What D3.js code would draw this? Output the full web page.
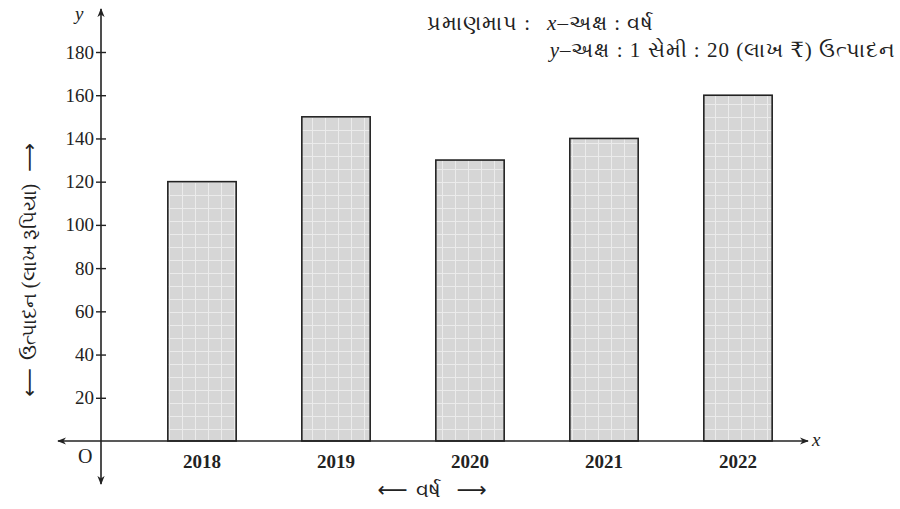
<!DOCTYPE html>
<html>
<head>
<meta charset="utf-8">
<script src="https://cdn.jsdelivr.net/npm/d3@7"></script>
<style>
  body { margin: 0; background: #fff; }
  text { font-family: "Liberation Serif", "DejaVu Serif", serif; fill: #222; }
  .arr { font-family: "DejaVu Sans", sans-serif; }
</style>
</head>
<body>
<svg id="chart" width="900" height="509"></svg>
<script>
const years = ["2018", "2019", "2020", "2021", "2022"];
const production = [120, 150, 130, 140, 160];
const yTicks = [20, 40, 60, 80, 100, 120, 140, 160, 180];

const svg = d3.select("#chart");
const ink = "#222";

// scales
const x = d3.scaleBand()
  .domain(years)
  .range([135, 805])
  .paddingInner(0.49)
  .paddingOuter(0.245);

const y = d3.scaleLinear()
  .domain([0, 180])
  .range([441, 52]);

// arrow heads
const defs = svg.append("defs");
defs.append("marker")
  .attr("id", "arrow")
  .attr("viewBox", "0 0 10 10")
  .attr("refX", 9).attr("refY", 5)
  .attr("markerWidth", 9).attr("markerHeight", 9)
  .attr("markerUnits", "userSpaceOnUse")
  .attr("orient", "auto-start-reverse")
  .append("path")
  .attr("d", "M0,1 L10,5 L0,9 L3,5 Z")
  .attr("fill", ink);

// bar fill: light gray with faint grid
const pat = defs.append("pattern")
  .attr("id", "grid")
  .attr("patternUnits", "userSpaceOnUse")
  .attr("width", 13).attr("height", 13);
pat.append("rect").attr("width", 13).attr("height", 13).attr("fill", "#d6d6d6");
pat.append("path")
  .attr("d", "M0,0.5 H13 M0.5,0 V13")
  .attr("stroke", "#ebebeb").attr("stroke-width", 1);

// bars
svg.selectAll("rect.bar")
  .data(years)
  .enter()
  .append("rect")
  .attr("class", "bar")
  .attr("x", d => x(d))
  .attr("y", (d, i) => y(production[i]))
  .attr("width", x.bandwidth())
  .attr("height", (d, i) => y(0) - y(production[i]))
  .attr("fill", "url(#grid)")
  .attr("stroke", ink)
  .attr("stroke-width", 1.6);

// x axis line with arrows
svg.append("line")
  .attr("x1", 58).attr("x2", 808)
  .attr("y1", y(0)).attr("y2", y(0))
  .attr("stroke", ink).attr("stroke-width", 1.6)
  .attr("marker-start", "url(#arrow)")
  .attr("marker-end", "url(#arrow)");

// y axis line with arrows
svg.append("line")
  .attr("x1", 101).attr("x2", 101)
  .attr("y1", 484).attr("y2", 9)
  .attr("stroke", ink).attr("stroke-width", 1.6)
  .attr("marker-start", "url(#arrow)")
  .attr("marker-end", "url(#arrow)");

// y ticks
const yAxis = svg.append("g")
  .attr("transform", "translate(101,0)")
  .call(d3.axisLeft(y).tickValues(yTicks).tickSize(5).tickPadding(2));
yAxis.select(".domain").remove();
yAxis.selectAll(".tick line").attr("x1", -5).attr("x2", 5).attr("stroke", ink).attr("stroke-width", 1.4);
yAxis.selectAll(".tick text")
  .style("font-family", "'Liberation Serif', serif")
  .style("font-size", "19px")
  .attr("fill", "#333");

// x labels
const xAxis = svg.append("g")
  .attr("transform", `translate(0,${y(0)})`)
  .call(d3.axisBottom(x).tickSize(0).tickPadding(14));
xAxis.select(".domain").remove();
xAxis.selectAll(".tick text")
  .style("font-family", "'Liberation Serif', serif")
  .style("font-size", "19px")
  .style("font-weight", "bold")
  .attr("fill", ink);

// axis letters
svg.append("text").attr("x", 78).attr("y", 463)
  .style("font-size", "20px").text("O");
svg.append("text").attr("x", 812).attr("y", 446)
  .style("font-size", "19px").style("font-style", "italic").text("x");
svg.append("text").attr("x", 75).attr("y", 20)
  .style("font-size", "19px").style("font-style", "italic").text("y");

// scale note
const note1 = svg.append("text").attr("x", 427).attr("y", 30)
  .style("font-size", "21px").style("letter-spacing", "1px");
note1.append("tspan").text("પ્રમાણમાપ :");
note1.append("tspan").attr("dx", 16).style("font-style", "italic").text("x");
note1.append("tspan").text("–અક્ષ : વર્ષ");

const note2 = svg.append("text").attr("x", 896).attr("y", 57)
  .attr("text-anchor", "end")
  .style("font-size", "21px").style("letter-spacing", "1px");
note2.append("tspan").style("font-style", "italic").text("y");
note2.append("tspan").text("–અક્ષ : 1 સેમી : 20 (લાખ ₹) ઉત્પાદન");

// axis titles
const yTitle = svg.append("text")
  .attr("transform", "translate(36,270) rotate(-90)")
  .attr("text-anchor", "middle")
  .style("font-size", "20px");
yTitle.append("tspan").attr("class", "arr").text("⟵");
yTitle.append("tspan").attr("dx", 8).text("ઉત્પાદન (લાખ રૂપિયા)");
yTitle.append("tspan").attr("dx", 12).attr("class", "arr").text("⟶");

const xTitle = svg.append("text")
  .attr("x", 432).attr("y", 497)
  .attr("text-anchor", "middle")
  .style("font-size", "21px");
xTitle.append("tspan").attr("class", "arr").text("⟵");
xTitle.append("tspan").attr("dx", 8).text("વર્ષ");
xTitle.append("tspan").attr("dx", 16).attr("class", "arr").text("⟶");
</script>
</body>
</html>
